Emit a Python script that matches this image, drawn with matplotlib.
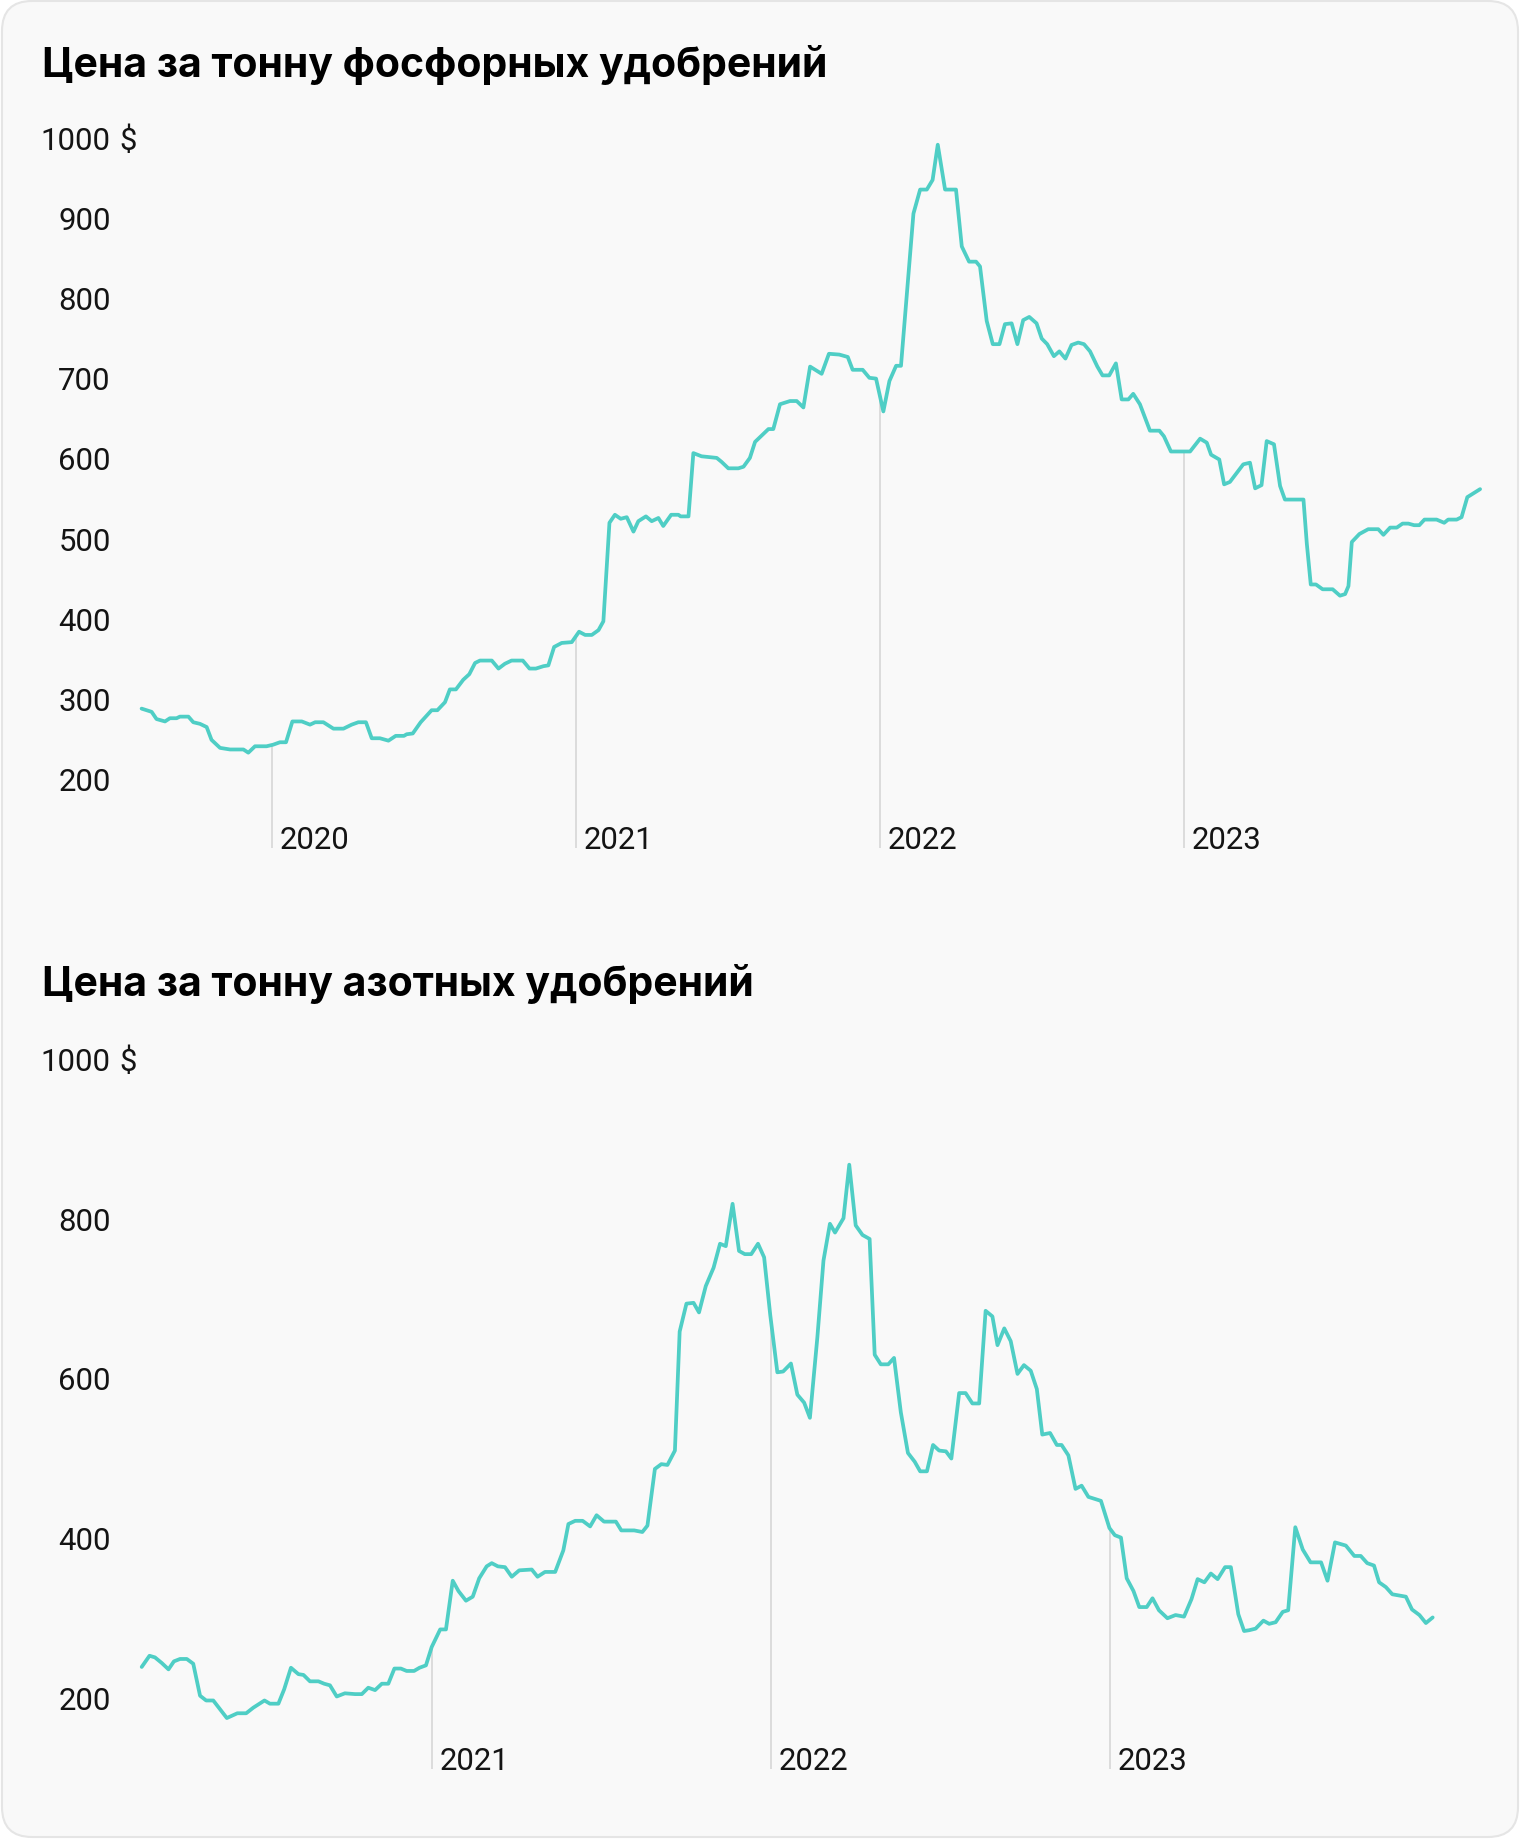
import numpy as np
import matplotlib.pyplot as plt
from matplotlib.patches import FancyBboxPatch
from matplotlib.transforms import blended_transform_factory

# phosphate fertilizer, $ per tonne (time as decimal year)
phos_t = [2019.572, 2019.605, 2019.621, 2019.649, 2019.665, 2019.687, 2019.698, 2019.726,
          2019.742, 2019.764, 2019.786, 2019.802, 2019.830, 2019.863, 2019.907, 2019.923,
          2019.945, 2019.983, 2020.005, 2020.027, 2020.047, 2020.068, 2020.099, 2020.126,
          2020.143, 2020.170, 2020.203, 2020.236, 2020.263, 2020.285, 2020.310, 2020.329,
          2020.356, 2020.384, 2020.408, 2020.435, 2020.444, 2020.464, 2020.490, 2020.526,
          2020.545, 2020.570, 2020.586, 2020.606, 2020.630, 2020.650, 2020.669, 2020.685,
          2020.724, 2020.746, 2020.767, 2020.789, 2020.826, 2020.848, 2020.869, 2020.894,
          2020.910, 2020.929, 2020.954, 2020.987, 2021.011, 2021.031, 2021.053, 2021.075,
          2021.091, 2021.111, 2021.129, 2021.148, 2021.168, 2021.190, 2021.206, 2021.231,
          2021.250, 2021.272, 2021.288, 2021.314, 2021.338, 2021.345, 2021.371, 2021.387,
          2021.414, 2021.464, 2021.480, 2021.502, 2021.535, 2021.552, 2021.573, 2021.590,
          2021.612, 2021.634, 2021.650, 2021.672, 2021.705, 2021.727, 2021.749, 2021.771,
          2021.809, 2021.833, 2021.867, 2021.895, 2021.911, 2021.944, 2021.966, 2021.988,
          2022.012, 2022.032, 2022.054, 2022.070, 2022.111, 2022.133, 2022.155, 2022.174,
          2022.191, 2022.215, 2022.251, 2022.270, 2022.294, 2022.317, 2022.330, 2022.352,
          2022.372, 2022.394, 2022.412, 2022.434, 2022.453, 2022.472, 2022.492, 2022.516,
          2022.533, 2022.551, 2022.573, 2022.591, 2022.611, 2022.631, 2022.653, 2022.672,
          2022.692, 2022.716, 2022.733, 2022.755, 2022.777, 2022.796, 2022.818, 2022.834,
          2022.856, 2022.889, 2022.920, 2022.935, 2022.958, 2023.021, 2023.054, 2023.076,
          2023.090, 2023.117, 2023.133, 2023.152, 2023.174, 2023.196, 2023.218, 2023.235,
          2023.256, 2023.273, 2023.297, 2023.317, 2023.333, 2023.394, 2023.405, 2023.418,
          2023.435, 2023.457, 2023.490, 2023.514, 2023.531, 2023.542, 2023.553, 2023.578,
          2023.607, 2023.640, 2023.657, 2023.679, 2023.701, 2023.720, 2023.739, 2023.758,
          2023.775, 2023.792, 2023.832, 2023.857, 2023.870, 2023.898, 2023.914, 2023.933,
          2023.975]
phos_v = [287, 283, 274, 271, 275, 275, 277, 277,
          270, 268, 264, 248, 238, 236, 236, 232,
          240, 240, 242, 245, 245, 271, 271, 267,
          270, 270, 262, 262, 267, 270, 270, 250,
          250, 247, 253, 253, 255, 256, 270, 285,
          285, 295, 311, 311, 323, 330, 344, 347,
          347, 337, 343, 347, 347, 337, 337, 340,
          341, 364, 369, 370, 383, 379, 379, 385,
          396, 519, 529, 524, 526, 508, 521, 527,
          521, 525, 515, 529, 529, 527, 527, 606,
          602, 600, 595, 587, 587, 589, 600, 620,
          628, 636, 636, 667, 671, 671, 663, 714,
          705, 730, 729, 726, 710, 710, 700, 699,
          658, 696, 715, 715, 905, 935, 935, 947,
          991, 935, 935, 864, 845, 845, 839, 771,
          742, 742, 767, 768, 742, 772, 776, 768,
          749, 742, 727, 733, 724, 741, 744, 742,
          733, 714, 703, 703, 718, 673, 673, 680,
          667, 634, 634, 627, 608, 608, 624, 619,
          604, 598, 567, 570, 581, 592, 594, 562,
          566, 621, 617, 565, 548, 548, 493, 442,
          442, 436, 436, 428, 430, 440, 495, 505,
          511, 511, 504, 513, 513, 518, 518, 516,
          516, 523, 523, 519, 523, 523, 526, 551,
          561]

# nitrogen fertilizer, $ per tonne
nitro_t = [2020.145, 2020.168, 2020.184, 2020.204, 2020.224, 2020.240, 2020.258, 2020.278,
           2020.297, 2020.317, 2020.335, 2020.356, 2020.376, 2020.396, 2020.427, 2020.453,
           2020.474, 2020.507, 2020.523, 2020.548, 2020.565, 2020.585, 2020.607, 2020.622,
           2020.641, 2020.666, 2020.683, 2020.700, 2020.720, 2020.744, 2020.774, 2020.794,
           2020.813, 2020.833, 2020.853, 2020.872, 2020.890, 2020.909, 2020.926, 2020.948,
           2020.964, 2020.983, 2021.000, 2021.025, 2021.042, 2021.062, 2021.079, 2021.101,
           2021.121, 2021.140, 2021.162, 2021.177, 2021.195, 2021.216, 2021.236, 2021.258,
           2021.295, 2021.312, 2021.334, 2021.364, 2021.388, 2021.403, 2021.423, 2021.445,
           2021.467, 2021.486, 2021.508, 2021.543, 2021.559, 2021.597, 2021.621, 2021.636,
           2021.658, 2021.677, 2021.695, 2021.717, 2021.731, 2021.751, 2021.772, 2021.788,
           2021.808, 2021.831, 2021.850, 2021.867, 2021.887, 2021.906, 2021.923, 2021.942,
           2021.962, 2021.980, 2021.998, 2022.019, 2022.036, 2022.059, 2022.078, 2022.098,
           2022.115, 2022.137, 2022.155, 2022.174, 2022.189, 2022.214, 2022.231, 2022.250,
           2022.270, 2022.291, 2022.306, 2022.324, 2022.346, 2022.363, 2022.383, 2022.404,
           2022.424, 2022.440, 2022.460, 2022.478, 2022.496, 2022.516, 2022.532, 2022.555,
           2022.574, 2022.594, 2022.614, 2022.633, 2022.653, 2022.668, 2022.688, 2022.707,
           2022.727, 2022.746, 2022.766, 2022.784, 2022.800, 2022.823, 2022.843, 2022.857,
           2022.877, 2022.898, 2022.916, 2022.936, 2022.973, 2022.998, 2023.014, 2023.032,
           2023.049, 2023.069, 2023.086, 2023.108, 2023.125, 2023.144, 2023.169, 2023.193,
           2023.218, 2023.240, 2023.258, 2023.278, 2023.297, 2023.317, 2023.339, 2023.356,
           2023.378, 2023.395, 2023.410, 2023.429, 2023.452, 2023.469, 2023.488, 2023.509,
           2023.525, 2023.546, 2023.568, 2023.591, 2023.622, 2023.641, 2023.663, 2023.695,
           2023.720, 2023.739, 2023.758, 2023.778, 2023.793, 2023.813, 2023.832, 2023.872,
           2023.890, 2023.912, 2023.931, 2023.951]
nitro_v = [238, 252, 250, 243, 235, 245, 248, 248,
           242, 202, 196, 196, 185, 174, 180, 180,
           187, 196, 192, 192, 210, 237, 229, 228,
           220, 220, 217, 215, 201, 205, 204, 204,
           212, 209, 217, 217, 236, 236, 233, 233,
           237, 240, 263, 285, 285, 346, 333, 321,
           326, 349, 364, 368, 364, 363, 351, 359,
           360, 351, 357, 357, 384, 417, 421, 421,
           414, 428, 420, 420, 409, 409, 407, 415,
           486, 492, 491, 509, 658, 693, 694, 682,
           715, 738, 768, 765, 818, 759, 755, 755,
           768, 751, 679, 607, 608, 618, 579, 569,
           550, 651, 747, 793, 782, 800, 867, 791,
           779, 774, 629, 617, 617, 625, 557, 506,
           495, 483, 483, 516, 509, 508, 499, 581,
           581, 568, 568, 684, 677, 641, 662, 646,
           605, 616, 609, 586, 529, 531, 516, 516,
           503, 461, 465, 451, 446, 412, 403, 400,
           349, 333, 313, 313, 324, 309, 299, 303,
           301, 323, 348, 344, 355, 348, 363, 363,
           304, 283, 284, 286, 296, 292, 294, 307,
           309, 413, 385, 369, 369, 346, 394, 390,
           377, 377, 368, 365, 344, 338, 329, 326,
           310, 303, 293, 300]

phos_years = [2020, 2021, 2022, 2023]
nitro_years = [2021, 2022, 2023]
phos_ticks = [200, 300, 400, 500, 600, 700, 800, 900, 1000]
nitro_ticks = [200, 400, 600, 800, 1000]
titles = ['Цена за тонну фосфорных удобрений', 'Цена за тонну азотных удобрений']

W, H = 1520, 1840
LINE = '#4fcec5'
TXT = '#141414'
FS = 22.4

fig = plt.figure(figsize=(W / 100, H / 100), dpi=100)
fig.patch.set_facecolor('white')

# card background
bg = fig.add_axes([0, 0, 1, 1])
bg.set_xlim(0, W)
bg.set_ylim(H, 0)
bg.axis('off')
bg.add_patch(FancyBboxPatch((2, 2), W - 4, H - 4, boxstyle='round,pad=0,rounding_size=30',
                            fc='#f9f9f9', ec='#e5e5e5', lw=1.5))


def draw(rect, t, v, xlim, ylim, ticks, years, title, title_base):
    ax = fig.add_axes(rect)
    ax.set_facecolor('none')
    ax.set_xlim(*xlim)
    ax.set_ylim(*ylim)
    for s in ax.spines.values():
        s.set_visible(False)
    ax.set_xticks([])
    ax.set_yticks(ticks)
    ax.set_yticklabels([str(x) for x in ticks])
    ax.tick_params(axis='y', length=0, pad=16.8, labelsize=FS, labelcolor=TXT)
    for lab in ax.get_yticklabels():
        lab.set_fontfamily('Roboto')

    ax.plot(t, v, color=LINE, lw=2.7, solid_joinstyle='round', solid_capstyle='round', zorder=3)

    # year separators run from the line down to the bottom
    for y in years:
        ax.vlines(y, ylim[0], np.interp(y, t, v), color='#dcdcdc', lw=1.4, zorder=1)
        ax.annotate(str(y), (y, ylim[0]), xytext=(5.4, 0), textcoords='offset points',
                    ha='left', va='baseline', fontsize=FS, family='Roboto', color=TXT)

    tr = blended_transform_factory(ax.transAxes, ax.transData)
    ax.text((119 - 134) / 1356, 1000, '$', transform=tr, ha='left', va='center_baseline',
            fontsize=FS, family='Roboto', color=TXT)

    fig.text(42 / W, 1 - title_base / H, title, ha='left', va='baseline',
             fontsize=29.5, fontweight='bold', family='Inter', color='black')
    return ax


left = 134 / W
width = (1490 - 134) / W
draw([left, 1 - 848.6 / H, width, 710.1 / H], phos_t, phos_v,
     (2019.547, 2024.0076), (113.5, 1000), phos_ticks, phos_years, titles[0], 77)
draw([left, 70 / H, width, 710.5 / H], nitro_t, nitro_v,
     (2020.1223, 2024.12), (110.2, 1000), nitro_ticks, nitro_years, titles[1], 996.5)

fig.savefig('out.png', dpi=100, facecolor='white')
